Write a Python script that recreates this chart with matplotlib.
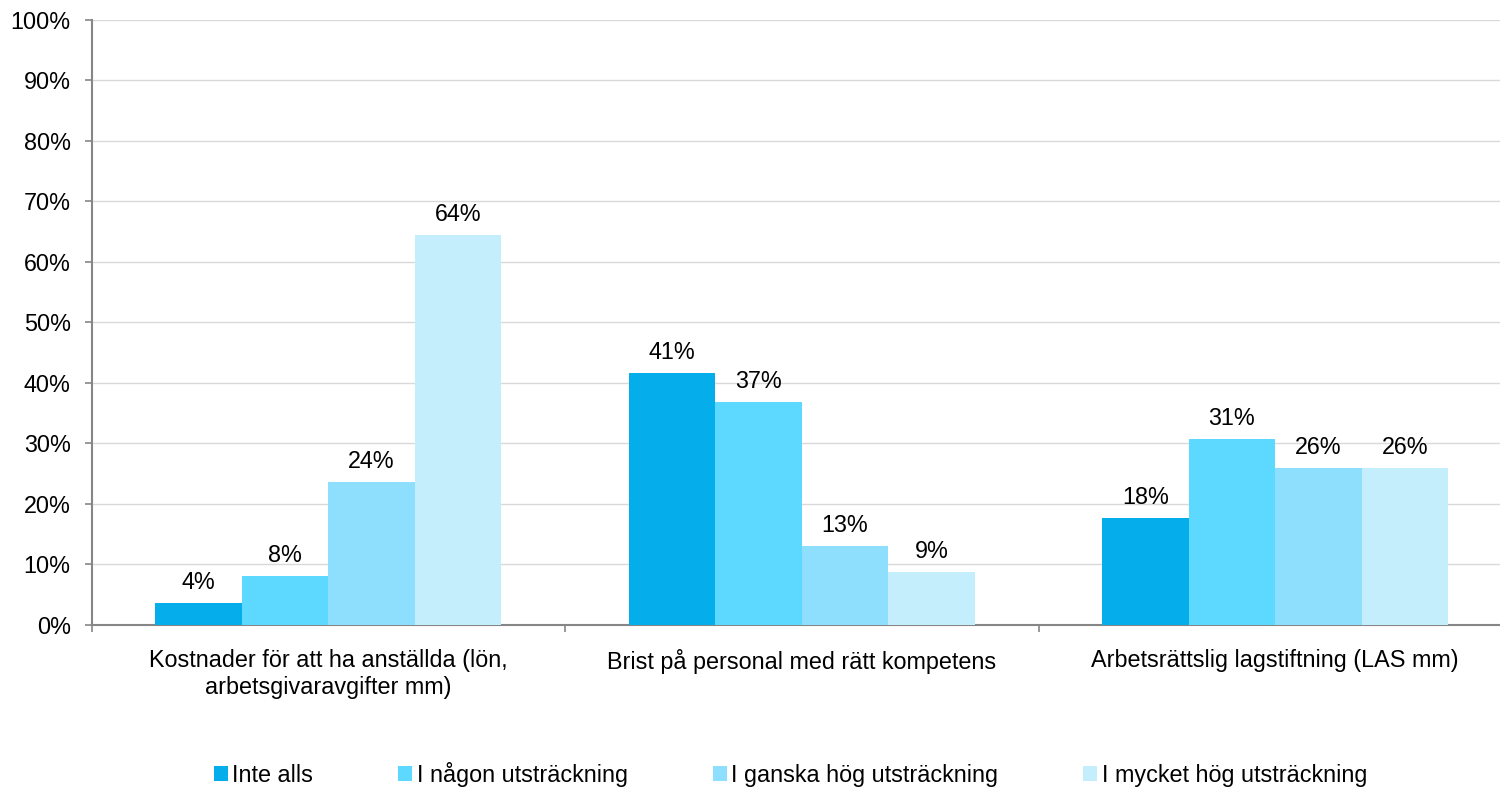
import matplotlib
matplotlib.use("Agg")
import matplotlib.pyplot as plt
import numpy as np

categories = ["Kostnader för att ha anställda (lön,\narbetsgivaravgifter mm)",
              "Brist på personal med rätt kompetens",
              "Arbetsrättslig lagstiftning (LAS mm)"]
series_names = ["Inte alls", "I någon utsträckning",
                "I ganska hög utsträckning", "I mycket hög utsträckning"]
inte_alls = [3.7, 41.6, 17.7]
nagon = [8.1, 36.9, 30.7]
ganska = [23.6, 13.0, 25.9]
mycket = [64.4, 8.8, 25.9]
value_labels = [["4%", "41%", "18%"], ["8%", "37%", "31%"],
                ["24%", "13%", "26%"], ["64%", "9%", "26%"]]
series = [inte_alls, nagon, ganska, mycket]
colors = ["#05ADEA", "#5DD9FF", "#8EDFFE", "#C5EEFD"]

plt.rcParams['font.family'] = ['Liberation Sans', 'DejaVu Sans']
FS = 16.8

fig = plt.figure(figsize=(15, 7.89), dpi=100)
ax = fig.add_axes([0.061, 0.2079, 0.947, 0.7668])

x = np.arange(len(categories))
w = 0.1827
for i, (vals, name, col) in enumerate(zip(series, series_names, colors)):
    pos = x + (i - 1.5) * w
    bars = ax.bar(pos, vals, width=w, color=col, label=name, edgecolor='none', zorder=3)
    for b, lab in zip(bars, value_labels[i]):
        ax.annotate(lab, (b.get_x() + b.get_width() / 2, b.get_height()),
                    xytext=(0, 6.5), textcoords='offset points',
                    ha='center', va='bottom', fontsize=FS, color='#000000')

ax.set_xlim(-0.5, 2.5)
ax.set_ylim(0, 100)
ax.set_yticks(np.arange(0, 101, 10))
ax.set_yticklabels([f"{v}%" for v in range(0, 101, 10)], fontsize=FS)
ax.yaxis.grid(True, color='#D9D9D9', linewidth=1, zorder=0)
ax.set_axisbelow(True)

ax.set_xticks(x)
ax.set_xticklabels(categories, fontsize=FS, linespacing=1.2)
ax.set_xticks([-0.5, 0.5, 1.5, 2.5], minor=True)
ax.tick_params(axis='x', which='major', length=0, pad=17.5)
ax.tick_params(axis='x', which='minor', length=5, width=1.2, color='#868686', direction='out')
ax.tick_params(axis='y', length=5, width=1.2, color='#868686', pad=10)

for s in ['top', 'right']:
    ax.spines[s].set_visible(False)
for s in ['left', 'bottom']:
    ax.spines[s].set_color('#868686')
    ax.spines[s].set_linewidth(1.5)

fig.legend(loc='center', bbox_to_anchor=(0.527, 0.019), ncol=4, frameon=False,
           fontsize=FS, handlelength=0.6, handleheight=0.6, handletextpad=0.2,
           columnspacing=3.64)

fig.savefig("out.png", dpi=100)
